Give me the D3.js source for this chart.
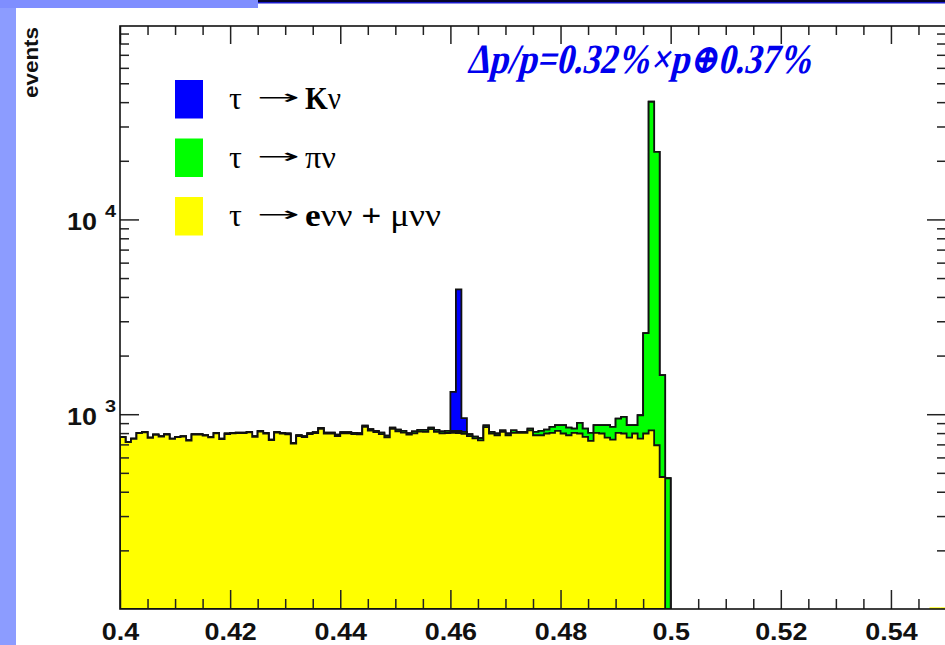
<!DOCTYPE html>
<html><head><meta charset="utf-8">
<script src="https://cdn.jsdelivr.net/npm/d3@7"></script>
<style>html,body{margin:0;padding:0;background:#fff;} svg{display:block;}</style>
</head><body>
<svg id="c" width="945" height="645"></svg>
<script>
// ---------------- data ----------------
const binStart = 0.400;
const binWidth = 0.001;
// tau -> e nu nu + mu nu nu (bins 0.400 .. 0.500)
const yellowCounts = [
 763,719,748,800,808,757,784,768,786,747,
 762,767,732,785,785,776,761,797,746,791,
 797,800,799,806,765,815,796,736,804,796,
 789,706,773,763,791,801,842,795,796,773,
 798,798,791,788,860,824,809,790,761,841,
 817,805,785,798,814,812,838,811,797,801,
 803,801,794,771,752,734,858,796,780,811,
 780,802,802,802,827,780,780,796,802,821,
 796,780,802,796,765,729,802,796,759,741,
 802,796,759,796,750,796,827,693,476,0
];
// tau -> pi nu (stacked on top of yellow)
const greenCounts = [
 2,2,2,2,3,2,3,3,3,3,
 3,4,3,4,4,4,4,5,4,5,
 5,5,6,5,6,6,6,5,7,6,
 7,6,7,8,8,9,8,10,9,12,
 10,12,11,12,13,14,12,15,14,13,
 15,16,14,17,16,18,16,19,18,20,
 17,19,18,18,16,19,17,15,16,16,
 16,25,9,9,17,31,41,38,58,57,
 82,74,42,106,79,73,76,82,119,119,
 148,173,119,82,238,1810,39373,21507,1110,469
];
// tau -> K nu (stacked on top of green): bin index -> count
const blueBins   = [60, 61, 62];
const blueCounts = [482, 3550, 142];
// small yellow entries at the far right
const tailBins   = [147, 148, 149];
const tailYellow = [102, 102, 102];

const xDomain = [0.40, 0.55];
const yDomain = [100, 98400];
const xMajorTicks = [0.40, 0.42, 0.44, 0.46, 0.48, 0.50, 0.52, 0.54];
const xTickLabels = ["0.4", "0.42", "0.44", "0.46", "0.48", "0.5", "0.52", "0.54"];
const yMajorTicks = [1000, 10000];
const yTickExponents = ["3", "4"];
const legendParticle = ["τ", "τ", "τ"];
const legendArrow = ["→", "→", "→"];
const legendProducts = ["Kν", "πν", "eνν + μνν"];
const legendColors = ["#0000ff", "#00ff00", "#ffff00"];
const yTitle = "events";
const annotation = "Δp/p=0.32%×p⊕0.37%";

// ---------------- drawing ----------------
const svg = d3.select("#c");
const W = 945, H = 645;
const L = 120, R = 946, T = 26, B = 609;
const x = d3.scaleLinear().domain(xDomain).range([L, R]);
const y = d3.scaleLog().domain(yDomain).range([B, T]);

// slide decoration
svg.append("rect").attr("x",0).attr("y",0).attr("width",W).attr("height",H).attr("fill","#fff");
svg.append("rect").attr("x",0).attr("y",0).attr("width",16).attr("height",H).attr("fill","#8c9cff");
svg.append("rect").attr("x",0).attr("y",0).attr("width",258).attr("height",8).attr("fill","#7f8eff");
svg.append("rect").attr("x",258).attr("y",0).attr("width",W-258).attr("height",2).attr("fill","#05052a");
svg.append("rect").attr("x",258).attr("y",2).attr("width",W-258).attr("height",1.5).attr("fill","#1a1acc");

svg.append("defs").append("clipPath").attr("id","plot")
  .append("rect").attr("x",L).attr("y",T).attr("width",R-L).attr("height",B-T);

const yc = v => (v > yDomain[0] ? y(v) : y(yDomain[0]));
function stepPath(vals){
  const p = d3.path();
  p.moveTo(x(binStart), B);
  vals.forEach((v,i)=>{
    const x0 = x(binStart + i*binWidth), x1 = x(binStart + (i+1)*binWidth);
    p.lineTo(x0, yc(v)); p.lineTo(x1, yc(v));
  });
  p.lineTo(x(binStart + vals.length*binWidth), B);
  p.closePath();
  return p.toString();
}
const layer1 = yellowCounts.slice();
const layer2 = yellowCounts.map((v,i)=>v + greenCounts[i]);
const layer3 = layer2.slice();
blueBins.forEach((b,k)=>{ layer3[b] += blueCounts[k]; });

const g = svg.append("g").attr("clip-path","url(#plot)");
[[layer3,"#0000ff"],[layer2,"#00ff00"],[layer1,"#ffff00"]].forEach(([vals,col])=>{
  g.append("path").attr("d", stepPath(vals)).attr("fill", col)
    .attr("stroke","#111").attr("stroke-width",1.8).attr("stroke-linejoin","miter");
});
g.selectAll("rect.tail").data(tailBins).enter().append("rect").attr("class","tail")
  .attr("x", b => x(binStart + b*binWidth))
  .attr("width", b => x(binStart + (b+1)*binWidth) - x(binStart + b*binWidth))
  .attr("y", (b,i) => y(tailYellow[i]))
  .attr("height", (b,i) => B - y(tailYellow[i]))
  .attr("fill","#ffff00");

// minor ticks
const xMinor = d3.range(0, 31).map(i => +(0.40 + i*0.005).toFixed(3))
  .filter(v => !xMajorTicks.some(m => Math.abs(m-v) < 1e-9));
const yMinor = [];
[100, 1000, 10000].forEach(d => { for (let k=2;k<=9;k++){ const v=d*k; if (v < yDomain[1]) yMinor.push(v); } });

function styleAxis(sel){
  sel.select(".domain").remove();
  sel.selectAll(".tick line").attr("stroke","#222").attr("stroke-width",1.5);
}
// bottom
svg.append("g").attr("transform",`translate(0,${B})`)
  .call(d3.axisBottom(x).tickValues(xMinor).tickSize(-10).tickFormat("")).call(styleAxis);
const bx = svg.append("g").attr("transform",`translate(0,${B})`)
  .call(d3.axisBottom(x).tickValues(xMajorTicks).tickSize(-19)
    .tickFormat((d,i)=>xTickLabels[i])).call(styleAxis);
bx.selectAll(".tick text").attr("y",31).attr("dy",0)
  .attr("font-family","'Liberation Sans', Arial, sans-serif").attr("font-weight","bold")
  .attr("font-size",23).attr("fill","#111").attr("transform","scale(1.17,1)");
// top
svg.append("g").attr("transform",`translate(0,${T})`)
  .call(d3.axisTop(x).tickValues(xMinor).tickSize(-9).tickFormat("")).call(styleAxis);
svg.append("g").attr("transform",`translate(0,${T})`)
  .call(d3.axisTop(x).tickValues(xMajorTicks).tickSize(-18).tickFormat("")).call(styleAxis);
// left
svg.append("g").attr("transform",`translate(${L},0)`)
  .call(d3.axisLeft(y).tickValues(yMinor).tickSize(-9).tickFormat("")).call(styleAxis);
svg.append("g").attr("transform",`translate(${L},0)`)
  .call(d3.axisLeft(y).tickValues(yMajorTicks).tickSize(-19).tickFormat("")).call(styleAxis);
// right
svg.append("g").attr("transform",`translate(${R},0)`)
  .call(d3.axisRight(y).tickValues(yMinor).tickSize(-9).tickFormat("")).call(styleAxis);
svg.append("g").attr("transform",`translate(${R},0)`)
  .call(d3.axisRight(y).tickValues(yMajorTicks).tickSize(-19).tickFormat("")).call(styleAxis);

// frame
svg.append("rect").attr("x",L).attr("y",T).attr("width",R-L).attr("height",B-T)
  .attr("fill","none").attr("stroke","#111").attr("stroke-width",1.6);

// y tick labels 10^n
const yl = svg.append("g").selectAll("g").data(yMajorTicks).enter().append("g");
yl.append("text").attr("transform", d => `translate(97,${y(d)+11}) scale(1.17,1)`)
  .attr("text-anchor","end").attr("font-family","'Liberation Sans', Arial, sans-serif")
  .attr("font-weight","bold").attr("font-size",23).attr("fill","#111").text("10");
yl.append("text").attr("transform", d => `translate(105,${y(d)-2}) scale(1.17,1)`)
  .attr("text-anchor","start").attr("font-family","'Liberation Sans', Arial, sans-serif")
  .attr("font-weight","bold").attr("font-size",17).attr("fill","#111")
  .text((d,i)=>yTickExponents[i]);

// y title
svg.append("text").attr("transform","translate(38,98) rotate(-90) scale(1.15,1)")
  .attr("text-anchor","start").attr("font-family","'Liberation Sans', Arial, sans-serif")
  .attr("font-weight","bold").attr("font-size",19.5).attr("fill","#111").text(yTitle);

// legend
const legY = [80, 138.5, 197];
const serif = "'Liberation Serif','DejaVu Serif',serif";
const lg = svg.append("g").selectAll("g").data(legendProducts).enter().append("g");
lg.append("rect").attr("x",175).attr("y",(d,i)=>legY[i]).attr("width",28).attr("height",38.5)
  .attr("fill",(d,i)=>legendColors[i]);
lg.append("text").attr("x",229).attr("y",(d,i)=>legY[i]+29)
  .attr("font-family",serif).attr("font-size",32).attr("fill","#000")
  .text((d,i)=>legendParticle[i]);
lg.append("text").attr("x",257).attr("y",(d,i)=>legY[i]+24)
  .attr("font-family","'DejaVu Sans',sans-serif").attr("font-size",20).attr("fill","#000")
  .attr("textLength",43).attr("lengthAdjust","spacingAndGlyphs")
  .text((d,i)=>legendArrow[i]);
const lt = lg.append("text").attr("x",305).attr("y",(d,i)=>legY[i]+29)
  .attr("font-family",serif).attr("font-size",31).attr("fill","#000")
  .attr("textLength",(d,i)=>[36,31,136][i]).attr("lengthAdjust","spacingAndGlyphs");
lt.each(function(d){
  const t = d3.select(this);
  Array.from(d).forEach(ch => {
    t.append("tspan").attr("font-weight", /[A-Za-z+]/.test(ch) ? "bold" : "normal").text(ch);
  });
});

// annotation: bold serif, slanted, scaled to the reference width
const ann = svg.append("text")
  .attr("font-family","'Liberation Serif','DejaVu Serif',serif")
  .attr("font-weight","bold").attr("font-size",32).attr("fill","#0000ee").text(annotation);
const annLen = ann.node().getComputedTextLength();
ann.attr("transform", `translate(467,73) scale(${345/annLen},1.3) skewX(-16)`);
</script>
</body></html>
